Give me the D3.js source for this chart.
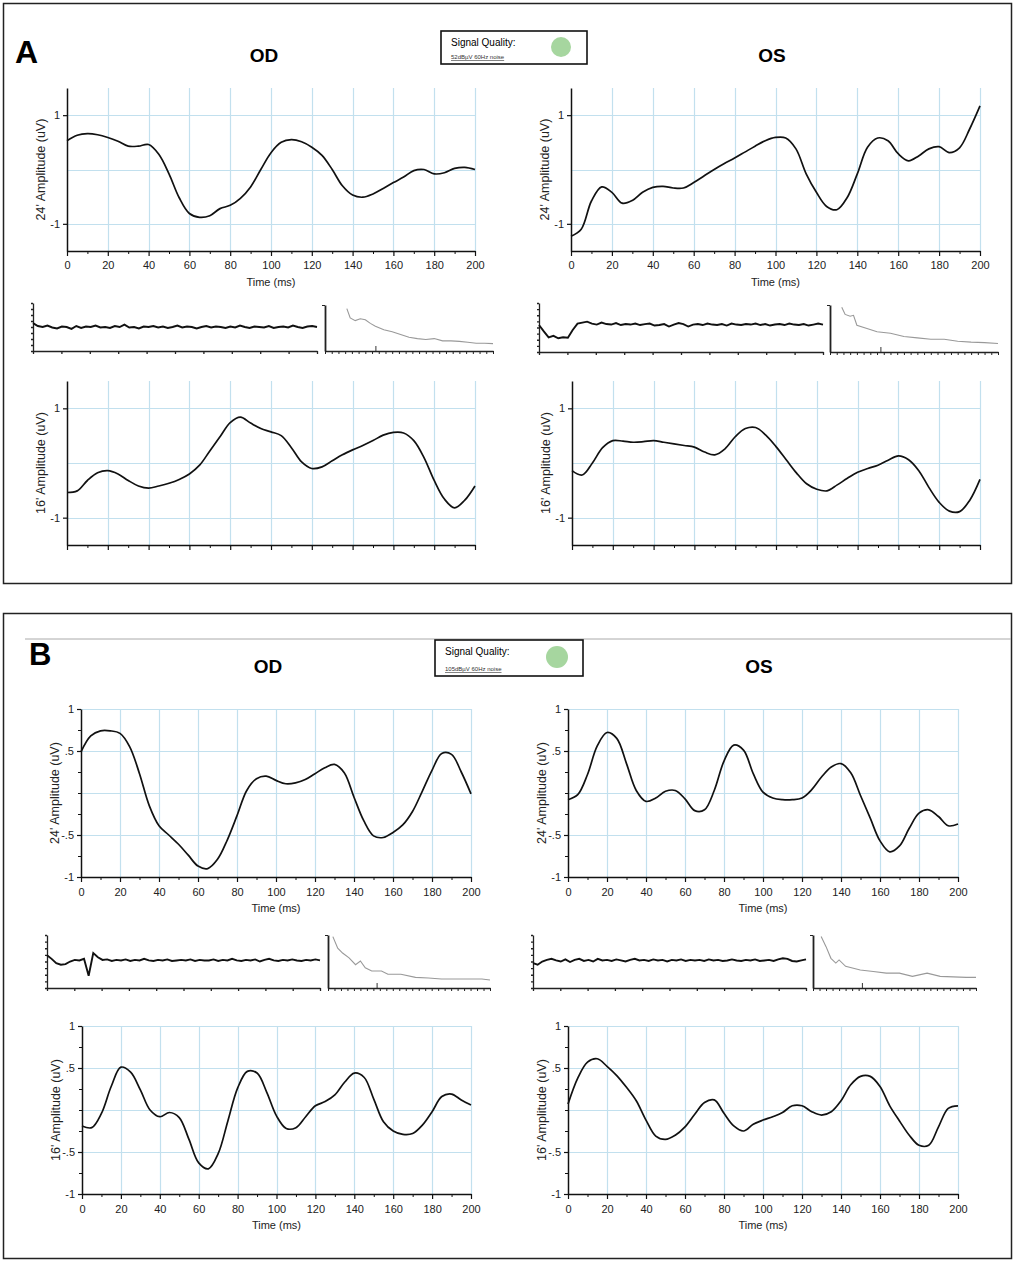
<!DOCTYPE html>
<html>
<head>
<meta charset="utf-8">
<script src="https://cdn.jsdelivr.net/npm/d3@7"></script>
<style>
  body { margin: 0; background: #fff; }
  text { font-family: 'Liberation Sans', Arial, sans-serif; }
</style>
</head>
<body>
<svg id="fig"></svg>
<script>
// time base of the ERG traces (ms)
var time = [0,5,10,15,20,25,30,35,40,45,50,55,60,65,70,75,80,85,90,95,100,
            105,110,115,120,125,130,135,140,145,150,155,160,165,170,175,180,185,190,195,200];
var timeTicks  = [0,20,40,60,80,100,120,140,160,180,200];
var timeLabels = ['0','20','40','60','80','100','120','140','160','180','200'];
var timeMinor  = [10,30,50,70,90,110,130,150,170,190];

// amplitude ticks
var ytValsA = [-1, 1];
var ytLabsA = ['-1', '1'];
var ytValsB = [-1, -0.5, 0.5, 1];
var ytLabsB = ['-1', '-.5', '.5', '1'];
var ytMinorB = [-0.75, -0.25, 0, 0.25, 0.75];

// panel A traces (uV)
var odA24 = [0.53,0.63,0.66,0.64,0.59,0.52,0.43,0.43,0.46,0.28,-0.08,-0.52,-0.81,-0.88,-0.85,-0.72,-0.66,-0.53,-0.32,0.0,
             0.31,0.50,0.55,0.51,0.41,0.26,0.0,-0.30,-0.47,-0.51,-0.45,-0.35,-0.24,-0.14,-0.02,0.0,-0.08,-0.06,0.02,0.04,0.0];
var osA24 = [-1.23,-1.10,-0.58,-0.32,-0.42,-0.62,-0.57,-0.42,-0.33,-0.31,-0.34,-0.34,-0.24,-0.12,0.0,0.11,0.21,0.32,0.43,0.53,
             0.59,0.58,0.38,-0.08,-0.42,-0.68,-0.74,-0.52,-0.08,0.41,0.58,0.53,0.29,0.16,0.25,0.38,0.42,0.31,0.40,0.75,1.17];
var odA16 = [-0.54,-0.51,-0.32,-0.18,-0.14,-0.20,-0.32,-0.42,-0.46,-0.42,-0.37,-0.30,-0.20,-0.04,0.22,0.48,0.74,0.84,0.73,0.63,
             0.57,0.50,0.28,0.02,-0.10,-0.07,0.04,0.15,0.24,0.32,0.41,0.51,0.56,0.55,0.41,0.10,-0.32,-0.66,-0.82,-0.68,-0.42];
var osA16 = [-0.14,-0.22,0.0,0.28,0.41,0.40,0.38,0.39,0.41,0.38,0.35,0.32,0.29,0.20,0.15,0.26,0.48,0.63,0.65,0.51,
             0.30,0.06,-0.18,-0.38,-0.48,-0.51,-0.40,-0.28,-0.17,-0.10,-0.04,0.05,0.13,0.06,-0.14,-0.45,-0.72,-0.88,-0.89,-0.68,-0.30];

// panel B traces (uV)
var odB24 = [0.49,0.68,0.74,0.74,0.71,0.55,0.23,-0.15,-0.39,-0.50,-0.61,-0.74,-0.87,-0.90,-0.79,-0.56,-0.27,0.03,0.17,0.20,
             0.15,0.11,0.12,0.16,0.23,0.30,0.34,0.24,-0.05,-0.33,-0.51,-0.53,-0.47,-0.38,-0.22,0.02,0.27,0.47,0.46,0.25,-0.01];
var osB24 = [-0.08,-0.02,0.22,0.56,0.72,0.65,0.35,0.03,-0.10,-0.06,0.02,0.03,-0.07,-0.21,-0.20,0.03,0.38,0.57,0.51,0.23,
             0.01,-0.06,-0.08,-0.08,-0.06,0.04,0.19,0.31,0.35,0.24,-0.03,-0.30,-0.57,-0.70,-0.63,-0.42,-0.24,-0.20,-0.28,-0.39,-0.37];
var odB16 = [-0.19,-0.21,-0.04,0.28,0.51,0.45,0.24,0.0,-0.08,-0.03,-0.09,-0.35,-0.63,-0.70,-0.52,-0.13,0.26,0.46,0.44,0.21,
             -0.07,-0.22,-0.21,-0.08,0.05,0.10,0.18,0.33,0.44,0.39,0.13,-0.14,-0.25,-0.29,-0.28,-0.18,-0.02,0.16,0.19,0.12,0.06];
var osB16 = [0.07,0.38,0.57,0.61,0.52,0.41,0.27,0.11,-0.12,-0.31,-0.35,-0.30,-0.20,-0.05,0.09,0.12,-0.04,-0.19,-0.25,-0.17,
             -0.12,-0.08,-0.03,0.05,0.05,-0.02,-0.06,-0.02,0.11,0.30,0.40,0.40,0.28,0.05,-0.13,-0.30,-0.42,-0.42,-0.20,0.02,0.05];

// raw recording traces (fraction of plot height)
var rawOdA = [0.58,0.52,0.50,0.53,0.49,0.47,0.51,0.50,0.46,0.52,0.48,0.51,0.50,0.53,0.49,0.50,0.48,0.52,0.50,0.55,
              0.49,0.50,0.47,0.51,0.50,0.52,0.49,0.51,0.48,0.50,0.53,0.49,0.51,0.50,0.47,0.50,0.52,0.49,0.51,0.50,
              0.48,0.51,0.49,0.53,0.50,0.48,0.51,0.50,0.49,0.52,0.48,0.50,0.51,0.49,0.53,0.50,0.48,0.51,0.52,0.50];
var rawOsA = [0.55,0.42,0.30,0.33,0.28,0.30,0.29,0.45,0.58,0.60,0.62,0.58,0.56,0.60,0.57,0.56,0.59,0.55,0.57,0.56,
              0.58,0.55,0.57,0.58,0.54,0.55,0.57,0.52,0.56,0.59,0.57,0.52,0.56,0.57,0.55,0.58,0.56,0.55,0.57,0.54,
              0.58,0.56,0.55,0.57,0.56,0.58,0.55,0.57,0.54,0.56,0.57,0.55,0.58,0.56,0.55,0.57,0.54,0.56,0.58,0.56];
var rawOdB = [0.62,0.55,0.47,0.44,0.45,0.50,0.53,0.52,0.55,0.23,0.66,0.58,0.53,0.54,0.51,0.53,0.52,0.54,0.51,0.53,
              0.52,0.55,0.52,0.51,0.53,0.52,0.54,0.51,0.52,0.53,0.52,0.54,0.51,0.53,0.52,0.52,0.54,0.51,0.53,0.52,
              0.55,0.52,0.51,0.53,0.52,0.54,0.50,0.53,0.55,0.52,0.51,0.53,0.52,0.54,0.52,0.51,0.53,0.52,0.54,0.52];
var rawOsB = [0.47,0.44,0.50,0.53,0.55,0.52,0.50,0.54,0.49,0.53,0.55,0.51,0.53,0.50,0.55,0.52,0.53,0.51,0.54,0.52,
              0.50,0.53,0.55,0.52,0.53,0.51,0.54,0.52,0.53,0.50,0.53,0.52,0.54,0.51,0.53,0.52,0.53,0.51,0.54,0.52,
              0.53,0.51,0.52,0.54,0.52,0.51,0.53,0.52,0.54,0.51,0.52,0.53,0.51,0.54,0.56,0.55,0.51,0.50,0.52,0.54];

// spectrum traces (percent of axis)
var specOdAx = [13,15,18,21,24,27,30,35,40,45,50,55,60,65,70,75,80,85,90,95,100];
var specOdAy = [92,72,66,70,68,60,54,46,42,36,30,27,25,27,22,22,21,19,17,17,16];
var specOsAx = [7,9,12,14,16,22,28,36,44,52,60,68,76,84,92,100];
var specOsAy = [95,80,76,78,57,50,43,40,33,30,27,27,23,21,20,18];
var specOdBx = [3,6,9,13,17,20,23,27,33,37,45,54,62,70,78,87,95,100];
var specOdBy = [97,75,66,57,44,51,38,32,32,26,26,20,19,17,17,17,17,15];
var specOsBx = [5,8,11,14,16,20,29,37,45,53,61,70,78,86,94,100];
var specOsBy = [97,78,56,47,53,41,34,31,28,28,22,28,22,21,20,20];

var gridCol = '#c2e0ee';

var svg = d3.select('#fig').attr('width', 1017).attr('height', 1263);
svg.append('rect').attr('width', 1017).attr('height', 1263).attr('fill', '#fff');

// panel frames
svg.append('rect').attr('x', 3.5).attr('y', 3.5).attr('width', 1008).attr('height', 580)
  .attr('fill', 'none').attr('stroke', '#222').attr('stroke-width', 1.5);
svg.append('rect').attr('x', 3.5).attr('y', 613.5).attr('width', 1008).attr('height', 645)
  .attr('fill', 'none').attr('stroke', '#222').attr('stroke-width', 1.5);
svg.append('line').attr('x1', 25).attr('x2', 1011).attr('y1', 639).attr('y2', 639)
  .attr('stroke', '#aaa').attr('stroke-width', 1);

// headings
function label(x, y, txt, size, weight, anchor) {
  return svg.append('text').attr('x', x).attr('y', y).text(txt)
    .style('font-size', size + 'px').style('font-weight', weight)
    .attr('text-anchor', anchor || 'middle');
}
label(15, 63, 'A', 32, 900, 'start');
label(29, 665, 'B', 31, 900, 'start');
label(264, 62, 'OD', 19, 'bold');
label(772, 62, 'OS', 19, 'bold');
label(268, 673, 'OD', 19, 'bold');
label(759, 673, 'OS', 19, 'bold');

function qualityBox(x, y, w, h, note, cx, cy, r) {
  svg.append('rect').attr('x', x).attr('y', y).attr('width', w).attr('height', h)
    .attr('fill', '#fff').attr('stroke', '#111').attr('stroke-width', 1.6);
  label(x + 10, y + 15, 'Signal Quality:', 10, 'normal', 'start');
  label(x + 10, y + h - 5, note, 6, 'normal', 'start').attr('text-decoration', 'underline').attr('fill', '#333');
  svg.append('circle').attr('cx', cx).attr('cy', cy).attr('r', r).attr('fill', '#a6d69f');
}
qualityBox(441, 31, 146, 33, '52dBµV 60Hz noise', 561, 47, 10);
qualityBox(435, 640, 148, 36, '105dBµV 60Hz noise', 557, 657, 11);

// ERG chart
function ergChart(c) {
  var x = d3.scaleLinear().domain([0, 200]).range([c.x0, c.x1]);
  var y = d3.scaleLinear().domain(c.dom).range([c.bot, c.top]);
  var g = svg.append('g');
  function snap(v) { return Math.round(v) + 0.5; }

  g.selectAll('.vg').data(timeTicks.slice(1)).enter().append('line')
    .attr('x1', function(d) { return snap(x(d)); }).attr('x2', function(d) { return snap(x(d)); })
    .attr('y1', c.top).attr('y2', c.bot)
    .attr('stroke', gridCol).attr('stroke-width', 1.2);
  g.selectAll('.hg').data(c.grid).enter().append('line')
    .attr('x1', c.x0).attr('x2', c.x1)
    .attr('y1', function(d) { return snap(y(d)); }).attr('y2', function(d) { return snap(y(d)); })
    .attr('stroke', gridCol).attr('stroke-width', 1.2);

  // minor x ticks
  g.append('g').attr('transform', 'translate(0,' + c.bot + ')')
    .call(d3.axisBottom(x).tickValues(timeMinor).tickSize(3).tickSizeOuter(0).tickFormat(''))
    .call(function(a) { a.select('.domain').remove(); });
  var xa = g.append('g').attr('transform', 'translate(0,' + c.bot + ')')
    .call(d3.axisBottom(x).tickValues(timeTicks).tickSize(5).tickSizeOuter(0).tickPadding(c.pad)
      .tickFormat(function(d, i) { return c.xlab ? timeLabels[i] : ''; }));

  if (c.minorY) {
    g.append('g').attr('transform', 'translate(' + c.x0 + ',0)')
      .call(d3.axisLeft(y).tickValues(c.minorY).tickSize(3).tickFormat(''))
      .call(function(a) { a.select('.domain').remove(); });
  }
  var ya = g.append('g').attr('transform', 'translate(' + c.x0 + ',0)')
    .call(d3.axisLeft(y).tickValues(c.ytv).tickSize(4).tickSizeOuter(0).tickPadding(3)
      .tickFormat(function(d, i) { return c.ytl[i]; }));

  [xa, ya].forEach(function(a) {
    a.select('.domain').attr('stroke', '#111').attr('stroke-width', 1.5);
    a.selectAll('.tick line').attr('stroke', '#111').attr('stroke-width', 1.2);
    a.selectAll('text').style('font-size', '11px').attr('fill', '#222')
      .style('font-family', "'Liberation Sans', Arial, sans-serif");
  });
  g.selectAll('.tick line').attr('stroke', '#111');

  if (c.xlab) {
    g.append('text').attr('x', (c.x0 + c.x1) / 2).attr('y', c.bot + 35)
      .attr('text-anchor', 'middle').style('font-size', '11px').attr('fill', '#222')
      .text('Time (ms)');
  }
  g.append('text')
    .attr('transform', 'translate(' + (c.x0 - 22) + ',' + ((c.top + c.bot) / 2) + ') rotate(-90)')
    .attr('text-anchor', 'middle').style('font-size', '12.5px').attr('fill', '#222')
    .text(c.ylab);

  var line = d3.line()
    .x(function(d, i) { return x(time[i]); })
    .y(function(d) { return y(d); })
    .curve(d3.curveCatmullRom.alpha(0.5));
  g.append('path').datum(c.data).attr('d', line)
    .attr('fill', 'none').attr('stroke', '#111').attr('stroke-width', 1.7);
}

var lab24 = "24' Amplitude (uV)";
var lab16 = "16' Amplitude (uV)";
var chartsA = { dom: [-1.5, 1.5], grid: [-1, 0, 1], ytv: ytValsA, ytl: ytLabsA, pad: 5 };
var chartsB = { dom: [-1, 1], grid: [-0.5, 0, 0.5, 1], ytv: ytValsB, ytl: ytLabsB, minorY: ytMinorB, pad: 6 };

[
  { data: odA24, x0: 67,  x1: 475, top: 88,   bot: 251,  ylab: lab24, xlab: true,  base: chartsA },
  { data: osA24, x0: 571, x1: 980, top: 88,   bot: 251,  ylab: lab24, xlab: true,  base: chartsA },
  { data: odA16, x0: 67,  x1: 475, top: 381,  bot: 545,  ylab: lab16, xlab: false, base: chartsA },
  { data: osA16, x0: 572, x1: 980, top: 381,  bot: 545,  ylab: lab16, xlab: false, base: chartsA },
  { data: odB24, x0: 81,  x1: 471, top: 709,  bot: 877,  ylab: lab24, xlab: true,  base: chartsB },
  { data: osB24, x0: 568, x1: 958, top: 709,  bot: 877,  ylab: lab24, xlab: true,  base: chartsB },
  { data: odB16, x0: 82,  x1: 471, top: 1026, bot: 1194, ylab: lab16, xlab: true,  base: chartsB },
  { data: osB16, x0: 568, x1: 958, top: 1026, bot: 1194, ylab: lab16, xlab: true,  base: chartsB }
].forEach(function(c) {
  ergChart(Object.assign({}, c.base, c));
});

// raw trace + spectrum strip
function rawStrip(c) {
  var g = svg.append('g');
  var x = d3.scaleLinear().domain([0, c.raw.length - 1]).range([c.x0, c.x1]);
  var y = d3.scaleLinear().domain([0, 1]).range([c.bot, c.top]);
  var xa = g.append('g').attr('transform', 'translate(0,' + c.bot + ')')
    .call(d3.axisBottom(x).tickValues(d3.range(11).map(function(k) { return k * (c.raw.length - 1) / 10; }))
      .tickSize(3).tickSizeOuter(0).tickFormat(''));
  var ya = g.append('g').attr('transform', 'translate(' + c.x0 + ',0)')
    .call(d3.axisLeft(y).tickValues(d3.range(0, 1.01, 0.125)).tickSize(2).tickSizeOuter(0).tickFormat(''));
  [xa, ya].forEach(function(a) {
    a.select('.domain').attr('stroke', '#222').attr('stroke-width', 1.3);
    a.selectAll('.tick line').attr('stroke', '#222').attr('stroke-width', 1.3);
  });
  g.append('path').datum(c.raw)
    .attr('d', d3.line().x(function(d, i) { return x(i); }).y(function(d) { return y(d); }))
    .attr('fill', 'none').attr('stroke', '#111').attr('stroke-width', 1.9);

  var sx = d3.scaleLinear().domain([0, 100]).range([c.sx0, c.sx1]);
  var sy = d3.scaleLinear().domain([0, 100]).range([c.bot, c.stop]);
  var sxa = g.append('g').attr('transform', 'translate(0,' + c.bot + ')')
    .call(d3.axisBottom(sx).tickValues(d3.range(0, 101, 4)).tickSize(3).tickSizeOuter(0).tickFormat(''));
  g.append('g').attr('transform', 'translate(0,' + c.bot + ')')
    .call(d3.axisTop(sx).tickValues([30]).tickSize(5).tickFormat(''))
    .call(function(a) { a.select('.domain').remove(); a.selectAll('line').attr('stroke', '#333'); });
  var sya = g.append('g').attr('transform', 'translate(' + c.sx0 + ',0)')
    .call(d3.axisLeft(sy).tickValues([100]).tickSize(3).tickSizeOuter(0).tickFormat(''));
  sxa.select('.domain').attr('stroke', '#222').attr('stroke-width', 1.3);
  sxa.selectAll('.tick line').attr('stroke', '#222');
  sya.select('.domain').attr('stroke', '#222').attr('stroke-width', 1.8);
  sya.selectAll('.tick line').attr('stroke', '#222');
  g.append('path').datum(c.specY)
    .attr('d', d3.line().x(function(d, i) { return sx(c.specX[i]); }).y(function(d) { return sy(d); }))
    .attr('fill', 'none').attr('stroke', '#999').attr('stroke-width', 1.1);
}

rawStrip({ raw: rawOdA, x0: 33,  x1: 317, top: 303, bot: 351, sx0: 325, sx1: 493, stop: 305, specX: specOdAx, specY: specOdAy });
rawStrip({ raw: rawOsA, x0: 539, x1: 823, top: 303, bot: 352, sx0: 830, sx1: 998, stop: 305, specX: specOsAx, specY: specOsAy });
rawStrip({ raw: rawOdB, x0: 47,  x1: 320, top: 935, bot: 988, sx0: 328, sx1: 490, stop: 935, specX: specOdBx, specY: specOdBy });
rawStrip({ raw: rawOsB, x0: 533, x1: 806, top: 935, bot: 988, sx0: 813, sx1: 976, stop: 935, specX: specOsBx, specY: specOsBy });
</script>
</body>
</html>
